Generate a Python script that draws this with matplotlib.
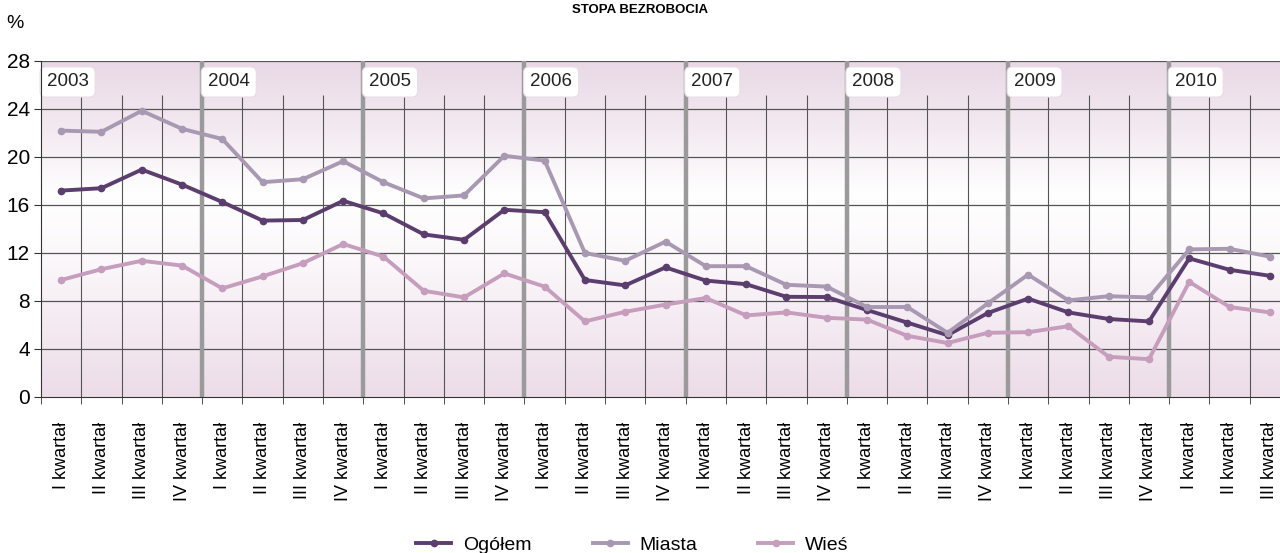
import numpy as np
import matplotlib
matplotlib.use("Agg")
import matplotlib.pyplot as plt
from matplotlib.colors import LinearSegmentedColormap

plt.rcParams['font.family'] = ['Liberation Sans Narrow', 'Liberation Sans', 'DejaVu Sans']

# ---------------- data ----------------
title = "STOPA BEZROBOCIA"
years = ["2003", "2004", "2005", "2006", "2007", "2008", "2009", "2010"]
quarters = ["I kwartał", "II kwartał", "III kwartał", "IV kwartał"]
n_points = 31
tick_labels = [quarters[i % 4] for i in range(n_points)]

ogolem = [17.2, 17.4, 18.95, 17.7, 16.25, 14.7, 14.75, 16.35, 15.3, 13.55, 13.1, 15.6,
          15.4, 9.75, 9.3, 10.8, 9.7, 9.4, 8.35, 8.33, 7.25, 6.2, 5.15, 7.0,
          8.2, 7.05, 6.5, 6.3, 11.55, 10.6, 10.1]
miasta = [22.2, 22.1, 23.85, 22.35, 21.5, 17.9, 18.15, 19.65, 17.9, 16.55, 16.8, 20.1,
          19.7, 12.0, 11.35, 12.95, 10.9, 10.9, 9.35, 9.2, 7.5, 7.5, 5.35, 7.8,
          10.2, 8.05, 8.4, 8.3, 12.3, 12.35, 11.7]
wies = [9.75, 10.65, 11.35, 10.95, 9.05, 10.05, 11.15, 12.75, 11.7, 8.85, 8.3, 10.3,
        9.2, 6.3, 7.1, 7.7, 8.25, 6.8, 7.05, 6.6, 6.45, 5.1, 4.5, 5.35,
        5.4, 5.9, 3.35, 3.15, 9.6, 7.5, 7.05]
series_names = ["Ogółem", "Miasta", "Wieś"]
series_colors = ["#5b3e6e", "#a898b2", "#c69dbd"]
yticks = [0, 4, 8, 12, 16, 20, 24, 28]

# ---------------- figure ----------------
W, H = 1280, 553
fig = plt.figure(figsize=(W / 100, H / 100), dpi=100)
left, right, top, bottom = 41, 1290, 61, 397
ax = fig.add_axes([left / W, 1 - bottom / H, (right - left) / W, (bottom - top) / H])
ax.set_xlim(-0.5, n_points - 0.5)
ax.set_ylim(0, 28)

# background gradient
cmap = LinearSegmentedColormap.from_list(
    "bg", [(0.0, "#ecdce8"), (0.4, "#fbf7fa"), (0.6, "#ffffff"), (0.8, "#f3eaf1"), (1.0, "#e9d9e6")])
grad = np.linspace(0, 1, 256).reshape(-1, 1)
ax.imshow(grad, extent=(-0.5, n_points - 0.5, 0, 28), origin="lower", aspect="auto",
          cmap=cmap, zorder=0)

# horizontal grid
for v in yticks[1:]:
    ax.axhline(v, color="#555555", lw=0.9, zorder=1)

# vertical grid
x = np.arange(n_points)
for b in np.arange(-0.5, n_points, 1.0):
    k = int(b + 0.5)
    if k % 4 == 0 and k > 0:
        ax.plot([b, b], [0, 28], color="#9a9a9a", lw=3.2, zorder=2, solid_capstyle="butt")
    elif k > 0:
        ax.plot([b, b], [0, 25.2], color="#555555", lw=0.8, zorder=1, solid_capstyle="butt")

# year labels
for i, yr in enumerate(years):
    ax.text(i * 4 - 0.5 + 0.14, 26.25, yr, fontsize=13.5, ha="left", va="center", color="#222222",
            bbox=dict(boxstyle="round,pad=0.35,rounding_size=0.3", fc="white", ec="#e8dde6", lw=0.8),
            zorder=3)

# series
for vals, name, col in zip([ogolem, miasta, wies], series_names, series_colors):
    ax.plot(x, vals, color=col, lw=2.8, marker="o", ms=4.5, label=name, zorder=4)

# axes styling
for s in ["top", "right"]:
    ax.spines[s].set_visible(False)
ax.spines["left"].set_color("#333333")
ax.spines["bottom"].set_color("#333333")
ax.spines["left"].set_zorder(5)

ax.set_yticks(yticks)
ax.set_yticklabels([str(v) for v in yticks], fontsize=15)
ax.tick_params(axis="y", direction="out", length=5, color="#333333", pad=3)

ax.set_xticks(x)
ax.set_xticklabels(tick_labels, rotation=90, fontsize=13, va="top")
ax.tick_params(axis="x", which="major", length=0, pad=18)
ax.set_xticks(np.arange(-0.5, n_points, 1.0), minor=True)
ax.tick_params(axis="x", which="minor", direction="out", length=5, color="#333333")

fig.text(15 / W, 1 - 23 / H, "%", fontsize=14, ha="center", va="center")
fig.text(640 / W, 1 - 10 / H, title, fontsize=9.5, fontweight="bold", ha="center", va="center")

leg = fig.legend(loc="center", bbox_to_anchor=(0.494, 1 - 545 / H), ncol=3, frameon=False,
                 fontsize=14, handlelength=1.8, handletextpad=0.6, columnspacing=3.15)

fig.savefig("out.png", dpi=100)
